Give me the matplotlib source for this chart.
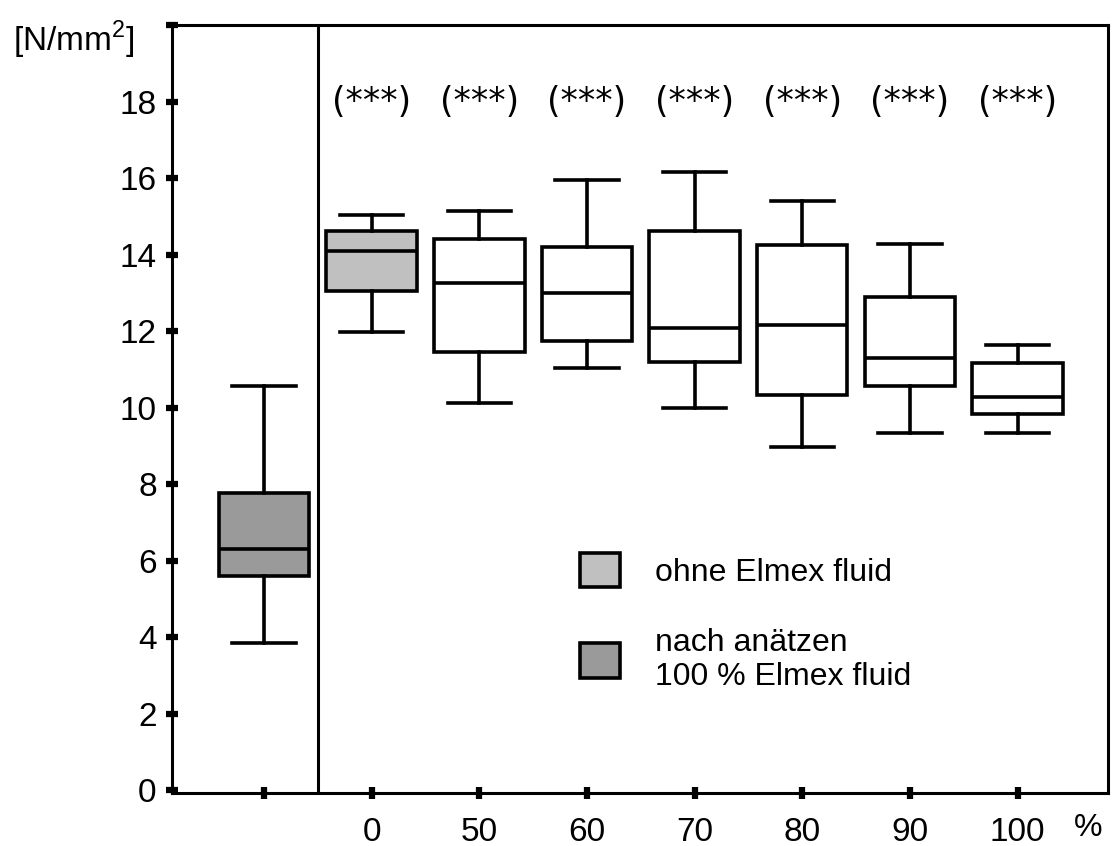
#!/usr/bin/env python
# -*- coding: utf8 -*-

import matplotlib
matplotlib.use('Agg')
import matplotlib.pyplot as plt
from matplotlib.patches import Patch

plt.rcParams['font.family'] = ['Liberation Sans', 'DejaVu Sans']
plt.rcParams['mathtext.fontset'] = 'custom'
plt.rcParams['mathtext.rm'] = 'Liberation Sans'

# box statistics (N/mm^2)
groups = ['', '0', '50', '60', '70', '80', '90', '100']
whisker_low = [3.86, 11.97, 10.12, 11.04, 9.99, 8.96, 9.33, 9.33]
q1 = [5.59, 13.05, 11.45, 11.74, 11.19, 10.33, 10.56, 9.83]
median = [6.32, 14.10, 13.26, 13.00, 12.08, 12.16, 11.30, 10.28]
q3 = [7.76, 14.62, 14.41, 14.20, 14.62, 14.25, 12.90, 11.17]
whisker_high = [10.56, 15.04, 15.14, 15.96, 16.17, 15.40, 14.28, 11.64]
signif = ['', '(***)', '(***)', '(***)', '(***)', '(***)', '(***)', '(***)']
box_colors = ['#9a9a9a', '#c0c0c0', 'white', 'white', 'white', 'white', 'white', 'white']
legend_labels = ['ohne Elmex fluid', 'nach anätzen\n100 % Elmex fluid']
legend_colors = ['#c0c0c0', '#9a9a9a']
yticks = list(range(0, 21, 2))


def render():
    fig = plt.figure(figsize=(11.14, 8.46), dpi=100)
    ax = fig.add_axes([0.1544, 0.0626, 0.8402, 0.9078])

    positions = list(range(1, len(groups) + 1))
    stats = []
    for i in range(len(groups)):
        stats.append({'whislo': whisker_low[i], 'q1': q1[i], 'med': median[i],
                      'q3': q3[i], 'whishi': whisker_high[i], 'fliers': []})

    lw = 2.6
    bp = ax.bxp(stats, positions=positions, widths=0.84, patch_artist=True,
                showfliers=False,
                boxprops=dict(linewidth=lw, edgecolor='black'),
                medianprops=dict(linewidth=lw, color='black'),
                whiskerprops=dict(linewidth=lw, color='black'),
                capprops=dict(linewidth=lw, color='black'),
                capwidths=0.59)
    for patch, clr in zip(bp['boxes'], box_colors):
        patch.set_facecolor(clr)

    for x, s in zip(positions, signif):
        if s:
            ax.text(x, 18.0, s, ha='center', va='center', fontsize=25,
                    family=['DejaVu Sans'])

    # separator between control and test groups
    ax.axvline(1.5, color='black', linewidth=2.2)

    ax.set_xlim(0.145, 8.84)
    ax.set_ylim(-0.07, 20.0)
    ax.set_xticks(positions)
    ax.set_xticklabels(groups)
    ax.set_yticks(yticks)
    ax.set_yticklabels([str(v) if v < 20 else '' for v in yticks])

    for sp in ax.spines.values():
        sp.set_linewidth(2.2)
    ax.tick_params(axis='both', labelsize=24, direction='inout', length=8,
                   width=4.5)
    ax.tick_params(axis='y', pad=7)
    ax.tick_params(axis='x', pad=13)

    ax.text(0.979, -0.046, '%', transform=ax.transAxes, ha='center',
            va='center', fontsize=23)
    fig.text(0.012, 0.978, '[N/mm$^2$]', ha='left', va='top', fontsize=24)

    handles = [Patch(facecolor=c, edgecolor='black', linewidth=2.6)
               for c in legend_colors]
    ax.legend(handles, legend_labels, loc='upper left',
              bbox_to_anchor=(0.436, 0.313), frameon=False, fontsize=23,
              handlelength=1.25, handleheight=1.3, handletextpad=1.1,
              labelspacing=1.25, borderpad=0, borderaxespad=0)

    fig.savefig('out.png', dpi=100)


if __name__ == '__main__':
    render()
